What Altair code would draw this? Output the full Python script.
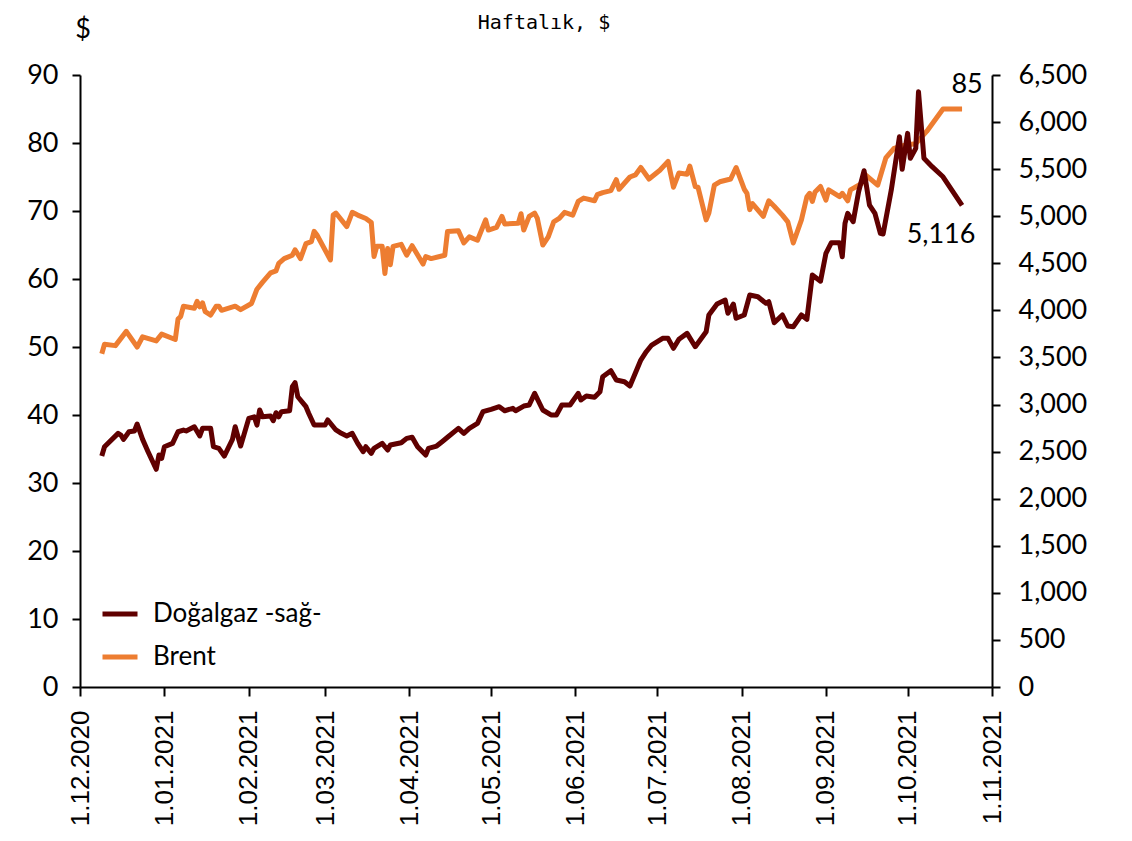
import altair as alt
import pandas as pd

# ---------------- data ----------------
brent_dates = [
    "2020-12-09", "2020-12-10", "2020-12-14", "2020-12-18", "2020-12-22", "2020-12-24", "2020-12-29", "2020-12-31",
    "2021-01-05", "2021-01-06", "2021-01-07", "2021-01-08", "2021-01-12", "2021-01-13", "2021-01-14", "2021-01-15",
    "2021-01-16", "2021-01-18", "2021-01-20", "2021-01-21", "2021-01-22", "2021-01-27", "2021-01-29",
    "2021-02-02", "2021-02-04", "2021-02-06", "2021-02-09", "2021-02-11", "2021-02-12", "2021-02-14", "2021-02-17",
    "2021-02-18", "2021-02-20", "2021-02-22", "2021-02-24", "2021-02-25", "2021-02-26",
    "2021-03-03", "2021-03-04", "2021-03-05", "2021-03-09", "2021-03-11", "2021-03-13", "2021-03-16", "2021-03-18",
    "2021-03-19", "2021-03-20", "2021-03-22", "2021-03-23", "2021-03-24", "2021-03-25", "2021-03-26", "2021-03-29",
    "2021-03-31", "2021-04-02", "2021-04-06", "2021-04-07", "2021-04-09", "2021-04-14", "2021-04-15", "2021-04-19",
    "2021-04-21", "2021-04-23", "2021-04-26", "2021-04-29", "2021-04-30", "2021-05-03", "2021-05-05", "2021-05-06",
    "2021-05-11", "2021-05-12", "2021-05-13", "2021-05-15", "2021-05-17", "2021-05-18", "2021-05-20", "2021-05-22",
    "2021-05-24", "2021-05-26", "2021-05-28", "2021-05-31", "2021-06-02", "2021-06-04", "2021-06-08", "2021-06-09",
    "2021-06-11", "2021-06-14", "2021-06-16", "2021-06-17", "2021-06-21", "2021-06-23", "2021-06-25", "2021-06-28",
    "2021-07-02", "2021-07-05", "2021-07-07", "2021-07-09", "2021-07-12", "2021-07-13", "2021-07-15", "2021-07-16",
    "2021-07-19", "2021-07-20", "2021-07-22", "2021-07-24", "2021-07-28", "2021-07-30", "2021-08-02", "2021-08-03",
    "2021-08-04", "2021-08-05", "2021-08-09", "2021-08-11", "2021-08-13", "2021-08-16", "2021-08-18", "2021-08-20",
    "2021-08-23", "2021-08-25", "2021-08-26", "2021-08-27", "2021-08-28", "2021-08-30", "2021-09-01", "2021-09-02",
    "2021-09-06", "2021-09-07", "2021-09-09", "2021-09-10", "2021-09-14", "2021-09-15", "2021-09-20", "2021-09-23",
    "2021-09-26", "2021-09-30", "2021-10-04", "2021-10-08", "2021-10-14", "2021-10-21",
]
brent_values = [
    49.0, 50.4, 50.2, 52.3, 50.0, 51.5, 50.9, 51.9,
    51.1, 54.1, 54.5, 56.0, 55.7, 56.7, 55.9, 56.5,
    55.2, 54.7, 56.0, 56.0, 55.4, 56.0, 55.5,
    56.4, 58.5, 59.5, 60.9, 61.2, 62.3, 63.0, 63.5,
    64.3, 63.0, 65.2, 65.5, 67.0, 66.5,
    62.8, 69.4, 69.7, 67.7, 69.8, 69.4, 68.9, 68.3,
    63.3, 64.8, 64.8, 60.8, 64.5, 62.1, 64.8, 65.1,
    63.5, 64.9, 62.2, 63.3, 63.0, 63.5, 67.0, 67.1,
    65.3, 66.2, 65.7, 68.7, 67.2, 67.6, 69.2, 68.1,
    68.2, 69.6, 67.2, 69.2, 69.7, 68.9, 65.0, 66.2,
    68.4, 68.9, 69.8, 69.4, 71.4, 71.9, 71.5, 72.4,
    72.7, 73.0, 74.6, 73.2, 75.0, 75.3, 76.4, 74.7,
    76.0, 77.3, 73.5, 75.6, 75.4, 76.6, 73.6, 73.5,
    68.7, 69.7, 73.8, 74.3, 74.7, 76.4, 73.2, 72.6,
    70.2, 71.1, 69.2, 71.5, 70.7, 69.4, 68.4, 65.3,
    68.7, 72.1, 72.6, 71.4, 72.8, 73.6, 71.6, 73.1,
    72.1, 72.6, 71.5, 73.1, 74.0, 75.5, 73.8, 77.8,
    79.2, 79.7, 79.9, 81.7, 85.0, 85.0,
]

gas_dates = [
    "2020-12-09", "2020-12-10", "2020-12-15", "2020-12-16", "2020-12-17", "2020-12-19", "2020-12-21", "2020-12-22",
    "2020-12-24", "2020-12-26", "2020-12-29", "2020-12-30", "2020-12-31", "2021-01-01", "2021-01-04", "2021-01-06",
    "2021-01-08", "2021-01-09", "2021-01-12", "2021-01-14", "2021-01-15", "2021-01-18", "2021-01-19", "2021-01-21",
    "2021-01-23", "2021-01-26", "2021-01-27", "2021-01-29", "2021-02-01", "2021-02-03", "2021-02-04", "2021-02-05",
    "2021-02-06", "2021-02-09", "2021-02-10", "2021-02-11", "2021-02-12", "2021-02-13", "2021-02-16", "2021-02-17",
    "2021-02-18", "2021-02-19", "2021-02-22", "2021-02-23", "2021-02-25", "2021-03-01", "2021-03-02", "2021-03-05",
    "2021-03-07", "2021-03-09", "2021-03-11", "2021-03-13", "2021-03-15", "2021-03-16", "2021-03-18", "2021-03-19",
    "2021-03-22", "2021-03-24", "2021-03-25", "2021-03-29", "2021-03-31", "2021-04-02", "2021-04-04", "2021-04-07",
    "2021-04-08", "2021-04-11", "2021-04-13", "2021-04-15", "2021-04-19", "2021-04-21", "2021-04-23", "2021-04-26",
    "2021-04-28", "2021-05-01", "2021-05-04", "2021-05-06", "2021-05-09", "2021-05-10", "2021-05-13", "2021-05-15",
    "2021-05-17", "2021-05-20", "2021-05-23", "2021-05-25", "2021-05-27", "2021-05-30", "2021-06-02", "2021-06-03",
    "2021-06-05", "2021-06-08", "2021-06-10", "2021-06-11", "2021-06-14", "2021-06-16", "2021-06-19", "2021-06-21",
    "2021-06-25", "2021-06-27", "2021-06-29", "2021-07-03", "2021-07-05", "2021-07-07", "2021-07-09", "2021-07-12",
    "2021-07-15", "2021-07-19", "2021-07-20", "2021-07-23", "2021-07-26", "2021-07-27", "2021-07-29", "2021-07-30",
    "2021-08-02", "2021-08-04", "2021-08-07", "2021-08-10", "2021-08-11", "2021-08-13", "2021-08-16", "2021-08-18",
    "2021-08-20", "2021-08-23", "2021-08-25", "2021-08-27", "2021-08-30", "2021-09-01", "2021-09-03", "2021-09-06",
    "2021-09-07", "2021-09-08", "2021-09-09", "2021-09-11", "2021-09-13", "2021-09-15", "2021-09-17", "2021-09-19",
    "2021-09-21", "2021-09-22", "2021-09-25", "2021-09-28", "2021-09-29", "2021-10-01", "2021-10-02", "2021-10-04",
    "2021-10-05", "2021-10-07", "2021-10-10", "2021-10-14", "2021-10-21",
]
gas_values = [
    2453, 2552, 2694, 2676, 2630, 2711, 2719, 2793,
    2630, 2499, 2312, 2464, 2428, 2552, 2588, 2711,
    2729, 2719, 2764, 2666, 2747, 2747, 2552, 2535,
    2453, 2630, 2764, 2559, 2853, 2870, 2782, 2942,
    2870, 2878, 2828, 2913, 2870, 2924, 2934, 3189,
    3232, 3083, 2977, 2907, 2782, 2782, 2836, 2730,
    2694, 2666, 2694, 2588, 2499, 2552, 2482, 2535,
    2588, 2517, 2570, 2594, 2641, 2652, 2552, 2464,
    2535, 2559, 2605, 2652, 2747, 2694, 2747, 2800,
    2924, 2949, 2977, 2934, 2960, 2934, 2984, 2995,
    3119, 2942, 2889, 2889, 2995, 2995, 3119, 3048,
    3090, 3077, 3136, 3295, 3359, 3260, 3242, 3197,
    3473, 3561, 3632, 3703, 3703, 3597, 3693, 3756,
    3614, 3773, 3951, 4067, 4110, 3969, 4067, 3916,
    3951, 4163, 4145, 4075, 4092, 3869, 3951, 3834,
    3826, 3951, 3905, 4375, 4310, 4606, 4719, 4719,
    4570, 4924, 5031, 4942, 5260, 5483, 5119, 5031,
    4818, 4811, 5278, 5844, 5498, 5880, 5615, 5721,
    6322, 5615, 5526, 5419, 5116,
]

series_names = ["Doğalgaz -sağ-", "Brent"]
series_colors = ["#600000", "#ED7D31"]
month_ticks = [(2020, 12), (2021, 1), (2021, 2), (2021, 3), (2021, 4), (2021, 5), (2021, 6),
               (2021, 7), (2021, 8), (2021, 9), (2021, 10), (2021, 11)]
brent_ticks = list(range(0, 91, 10))
gas_ticks = list(range(0, 6501, 500))
title_text = "Haftalık, $"
unit_text = "$"

# ---------------- frames ----------------
brent_df = pd.DataFrame({"date": brent_dates, "value": brent_values, "series": series_names[1]})
gas_df = pd.DataFrame({"date": gas_dates, "value": gas_values, "series": series_names[0]})
brent_last = brent_df.tail(1)
gas_last = gas_df.tail(1)

FONT = "Lato"
tick_dt = [alt.DateTime(year=y, month=m, date=1, utc=True) for y, m in month_ticks]

x_enc = alt.X(
    "date:T",
    title=None,
    scale=alt.Scale(type="utc", domain=[tick_dt[0], tick_dt[-1]], nice=False),
    axis=alt.Axis(values=tick_dt, format="%-d.%m.%Y", labelAngle=-90, labelFont="Liberation Sans",
                  labelFontSize=26, labelColor="black", tickSize=9, tickWidth=2, tickColor="black",
                  domainColor="black", domainWidth=2, labelPadding=14, grid=False, labelOverlap=False),
)
axis_common = dict(grid=False, tickSize=8, tickWidth=2, tickColor="black", domainColor="black",
                   domainWidth=2, labelFont=FONT, labelFontSize=27, labelColor="black", labelOverlap=False)
brent_y = alt.Y("value:Q", title=None, scale=alt.Scale(domain=[0, 90], nice=False),
                axis=alt.Axis(orient="left", values=brent_ticks, format=".0f", labelPadding=14, **axis_common))
gas_y = alt.Y("value:Q", title=None, scale=alt.Scale(domain=[0, 6500], nice=False),
              axis=alt.Axis(orient="right", values=gas_ticks, format=",.0f", labelPadding=18, **axis_common))

color_enc = alt.Color(
    "series:N",
    scale=alt.Scale(domain=series_names, range=series_colors),
    legend=alt.Legend(orient="none", legendX=20, legendY=519, title=None, symbolType="stroke",
                      symbolStrokeWidth=5, symbolSize=1225, labelFont=FONT, labelFontSize=26,
                      labelColor="black", labelOffset=13, rowPadding=10, padding=0, labelLimit=0),
)

brent_line = alt.Chart(brent_df).mark_line(strokeWidth=5, strokeJoin="round").encode(
    x=x_enc, y=brent_y, color=color_enc)
brent_label = alt.Chart(brent_last).mark_text(font=FONT, fontSize=27, dx=5, dy=-24, color="black").encode(
    x=x_enc, y=brent_y, text=alt.Text("value:Q", format=".0f"))
gas_line = alt.Chart(gas_df).mark_line(strokeWidth=5, strokeJoin="round").encode(
    x=x_enc, y=gas_y, color=color_enc)
gas_label = alt.Chart(gas_last).mark_text(font=FONT, fontSize=27, dx=-21, dy=30, color="black").encode(
    x=x_enc, y=gas_y, text=alt.Text("value:Q", format=",.0f"))

title_mark = alt.Chart(pd.DataFrame({"t": [title_text]})).mark_text(
    font="DejaVu Sans Mono", fontSize=20, color="black", baseline="middle").encode(
    x=alt.value(464), y=alt.value(-52), text="t:N")
unit_mark = alt.Chart(pd.DataFrame({"t": [unit_text]})).mark_text(
    font=FONT, fontSize=27, color="black").encode(
    x=alt.value(3), y=alt.value(-45), text="t:N")

chart = alt.layer(
    alt.layer(brent_line, brent_label),
    alt.layer(gas_line, gas_label),
    title_mark,
    unit_mark,
).resolve_scale(y="independent").properties(
    width=912, height=612,
    padding={"left": 72, "top": 67, "right": 132, "bottom": 146},
    autosize=alt.AutoSizeParams(type="none"),
    background="white",
).configure_view(stroke=None)

chart.save("out.html", embed_options={"renderer": "svg", "actions": False})
